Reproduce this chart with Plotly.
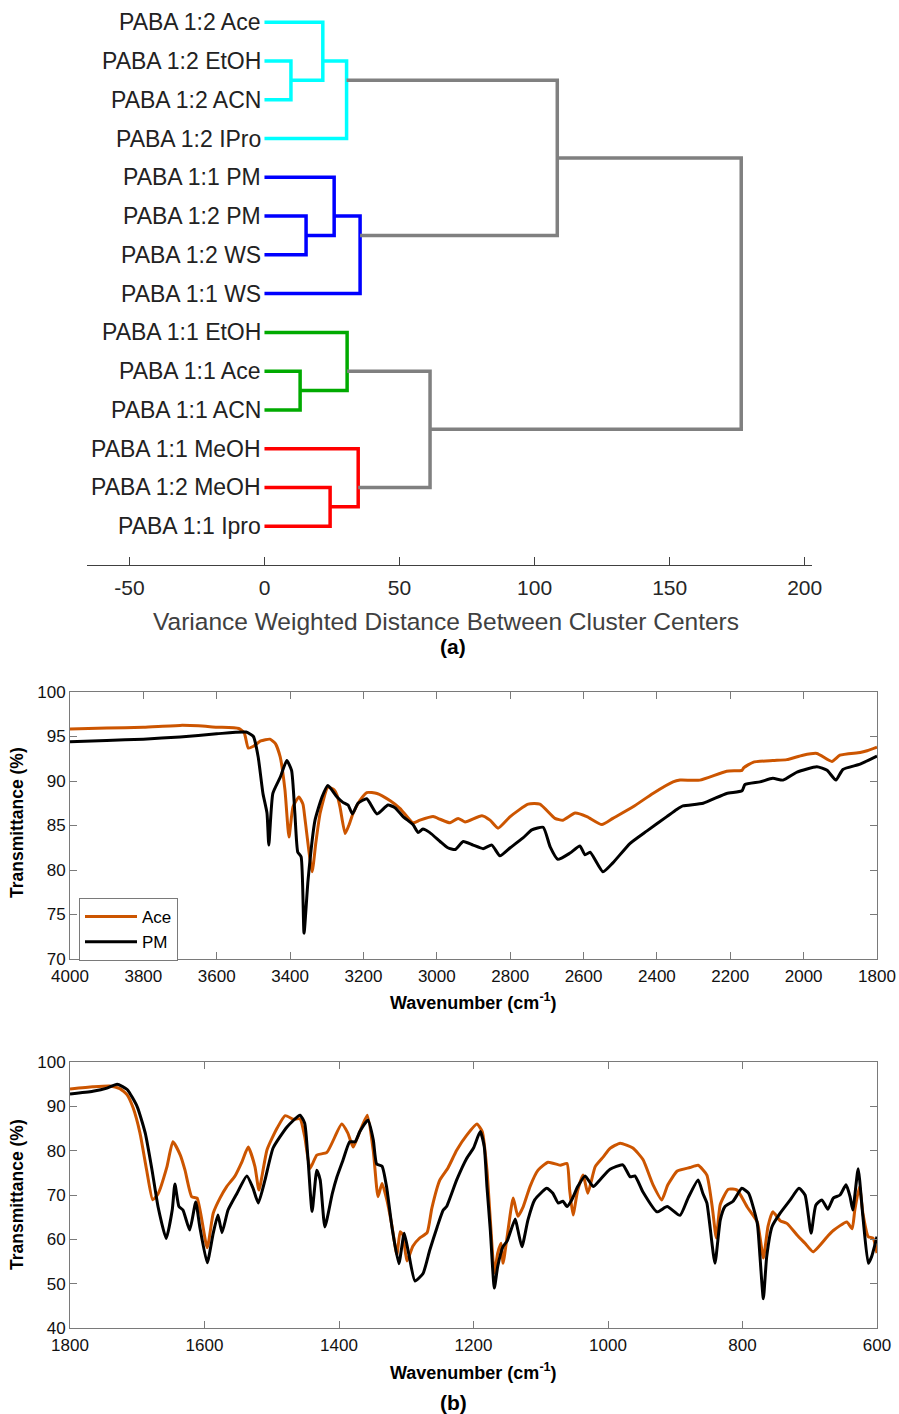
import plotly.graph_objects as go

# ---------------- (a) hierarchical clustering of PABA samples ----------------
leaf_labels = [
    "PABA 1:2 Ace", "PABA 1:2 EtOH", "PABA 1:2 ACN", "PABA 1:2 IPro",
    "PABA 1:1 PM", "PABA 1:2 PM", "PABA 1:2 WS", "PABA 1:1 WS",
    "PABA 1:1 EtOH", "PABA 1:1 Ace", "PABA 1:1 ACN",
    "PABA 1:1 MeOH", "PABA 1:2 MeOH", "PABA 1:1 Ipro",
]

# linkage: (child a, child b, merge distance, cluster colour); new node ids start at 14
link_a = [1, 0, 15, 5, 4, 18, 16, 9, 8, 12, 11, 22, 20]
link_b = [2, 14, 3, 6, 17, 7, 19, 10, 21, 13, 23, 24, 25]
link_h = [9.8, 21.6, 30.4, 15.4, 25.8, 35.4, 108.4, 13.2, 30.6, 24.3, 34.7, 61.3, 176.5]
link_c = ["#00FFFF", "#00FFFF", "#00FFFF", "#0000FF", "#0000FF", "#0000FF", "#808080",
          "#00AA00", "#00AA00", "#FF0000", "#FF0000", "#808080", "#808080"]

dist_ticks = [-50, 0, 50, 100, 150, 200]

# ---------------- (b) FTIR spectra ----------------
hi_wn_ace = [4000, 3900, 3800, 3700, 3650, 3600, 3540, 3525, 3514, 3500, 3480, 3455, 3440, 3427,
             3414, 3403, 3392, 3376, 3365, 3359, 3340, 3330, 3318, 3297, 3280, 3272, 3264, 3250,
             3240, 3228, 3210, 3191, 3163, 3128, 3100, 3065, 3046, 3010, 2991, 2964, 2942, 2923,
             2877, 2855, 2833, 2800, 2751, 2719, 2678, 2656, 2623, 2591, 2550, 2520, 2465, 2411,
             2356, 2337, 2283, 2210, 2168, 2163, 2138, 2084, 2046, 2002, 1964, 1923, 1901, 1846,
             1827, 1800]
hi_t_ace = [95.85, 95.95, 96.05, 96.25, 96.2, 96.05, 95.9, 95.4, 93.7, 93.9, 94.5, 94.7, 94.2, 92.7,
            89.0, 83.7, 87.1, 88.2, 87.4, 85.6, 79.8, 83.0, 86.4, 89.3, 89.0, 88.4, 87.1, 84.1,
            85.0, 86.4, 87.8, 88.7, 88.6, 87.8, 86.9, 85.3, 85.6, 86.0, 85.7, 85.3, 85.8, 85.4,
            86.1, 85.6, 84.7, 86.0, 87.4, 87.4, 85.8, 85.6, 86.4, 86.0, 85.1, 85.8, 87.1, 88.6,
            89.9, 90.1, 90.1, 91.1, 91.2, 91.5, 92.1, 92.3, 92.4, 92.9, 93.1, 92.2, 92.9, 93.2,
            93.4, 93.8]

hi_wn_pm = [4000, 3900, 3800, 3700, 3600, 3520, 3500, 3487, 3474, 3463, 3458, 3447, 3427, 3409,
            3396, 3387, 3379, 3370, 3362, 3351, 3332, 3313, 3297, 3272, 3256, 3242, 3230, 3215,
            3191, 3163, 3133, 3114, 3092, 3065, 3051, 3038, 3019, 2991, 2970, 2950, 2928, 2901,
            2874, 2850, 2828, 2800, 2765, 2741, 2710, 2691, 2670, 2637, 2610, 2596, 2582, 2547,
            2520, 2473, 2427, 2373, 2346, 2329, 2274, 2210, 2168, 2160, 2119, 2084, 2056, 2018,
            1964, 1936, 1912, 1893, 1846, 1800]
hi_t_pm = [94.4, 94.55, 94.7, 94.95, 95.3, 95.5, 95.0, 92.7, 88.6, 86.4, 82.8, 88.6, 90.4, 92.3,
           91.2, 86.4, 82.0, 81.5, 72.9, 78.9, 85.6, 88.2, 89.5, 88.2, 87.6, 87.3, 86.3, 87.5,
           88.0, 86.3, 87.3, 87.0, 86.0, 85.1, 84.2, 84.6, 84.2, 83.2, 82.5, 82.3, 83.2, 82.8,
           82.4, 82.8, 81.6, 82.5, 83.6, 84.5, 84.8, 82.6, 81.2, 81.9, 82.7, 81.7, 82.0, 79.8,
           80.8, 83.0, 84.4, 86.0, 86.8, 87.2, 87.5, 88.6, 88.9, 89.6, 89.9, 90.3, 90.1, 91.0,
           91.6, 91.2, 90.1, 91.3, 91.9, 92.8]

lo_wn_ace = [1800, 1766, 1741, 1726, 1715, 1706, 1696, 1686, 1677, 1669, 1656, 1647, 1636, 1629,
             1619, 1611, 1596, 1587, 1577, 1567, 1555, 1544, 1535, 1525, 1519, 1507, 1492, 1480,
             1468, 1458, 1451, 1443, 1433, 1418, 1396, 1387, 1379, 1373, 1358, 1349, 1342, 1336,
             1329, 1321, 1314, 1309, 1305, 1299, 1290, 1280, 1269, 1262, 1250, 1238, 1225, 1210,
             1195, 1187, 1180, 1175, 1169, 1164, 1159, 1156, 1150, 1141, 1134, 1126, 1116, 1104,
             1089, 1071, 1061, 1057, 1052, 1045, 1037, 1030, 1019, 1007, 997, 982, 963, 948, 933,
             920, 911, 897, 878, 866, 853, 845, 839, 833, 821, 808, 793, 778, 769, 762, 755, 744,
             734, 719, 707, 695, 674, 665, 645, 637, 633, 626, 621, 613, 606, 600]
lo_t_ace = [93.9, 94.4, 94.6, 94.0, 92.6, 89.6, 84.0, 75.6, 68.9, 70.3, 76.3, 82.0, 79.0, 75.6,
            69.6, 69.3, 58.1, 65.9, 69.3, 71.9, 74.2, 77.6, 80.8, 76.4, 71.1, 80.2, 85.1, 87.9,
            87.1, 87.2, 83.2, 76.0, 79.0, 79.6, 86.0, 84.0, 80.8, 82.8, 88.0, 79.9, 69.6, 72.6,
            69.0, 62.8, 56.5, 61.7, 61.0, 55.1, 58.5, 60.3, 61.5, 67.0, 73.4, 76.1, 80.1, 83.5,
            86.0, 84.3, 75.6, 64.4, 52.4, 56.9, 59.1, 54.6, 60.6, 69.3, 65.2, 67.4, 71.9, 75.6,
            77.4, 76.7, 77.1, 71.1, 65.5, 71.1, 74.5, 70.4, 76.4, 78.6, 80.5, 81.7, 80.6, 78.0, 72.3,
            68.9, 72.3, 75.4, 76.2, 76.7, 74.5, 67.3, 60.3, 67.9, 71.3, 71.1, 67.3, 63.9, 55.8, 63.0,
            66.2, 64.2, 63.6, 61.0, 59.1, 57.2, 60.6, 62.0, 63.9, 62.4, 66.6, 71.9, 65.9, 60.6,
            60.3, 56.9]

lo_wn_pm = [1800, 1766, 1745, 1730, 1715, 1700, 1688, 1678, 1669, 1657, 1648, 1644, 1638, 1632,
            1622, 1613, 1607, 1596, 1587, 1580, 1574, 1565, 1552, 1537, 1528, 1520, 1510, 1498,
            1477, 1458, 1451, 1446, 1440, 1433, 1428, 1421, 1410, 1403, 1394, 1384, 1376, 1369,
            1357, 1349, 1344, 1336, 1329, 1321, 1311, 1303, 1296, 1287, 1275, 1265, 1254, 1245,
            1240, 1225, 1210, 1200, 1190, 1184, 1180, 1175, 1169, 1164, 1156, 1150, 1138, 1134,
            1128, 1119, 1109, 1091, 1082, 1074, 1067, 1061, 1054, 1045, 1034, 1022, 1012, 997,
            978, 967, 960, 948, 927, 912, 893, 881, 866, 859, 853, 841, 833, 826, 814, 801, 791,
            778, 774, 769, 764, 756, 744, 729, 716, 707, 698, 691, 682, 673, 665, 655, 646, 640,
            636, 628, 621, 613, 608, 600]
lo_t_pm = [92.8, 93.4, 94.1, 95.0, 93.8, 89.9, 83.9, 75.6, 67.3, 60.2, 66.6, 72.5, 67.4, 66.6,
           62.1, 68.4, 62.8, 54.7, 61.4, 65.5, 61.5, 66.6, 70.3, 74.3, 71.6, 68.2, 73.4, 80.6,
           85.4, 88.0, 86.2, 77.9, 66.3, 75.6, 73.4, 62.8, 70.3, 74.1, 77.9, 82.0, 82.0, 84.3,
           86.9, 82.4, 77.0, 76.5, 71.6, 62.5, 54.5, 61.4, 56.5, 50.6, 52.3, 57.6, 62.8, 66.6,
           67.4, 73.4, 78.3, 80.6, 84.3, 80.9, 71.9, 62.1, 49.0, 53.9, 58.4, 59.6, 64.6, 62.1,
           58.3, 64.4, 68.9, 71.5, 70.4, 68.2, 68.6, 67.4, 68.9, 71.9, 74.3, 71.9, 73.4, 75.8,
           76.8, 74.1, 74.3, 70.7, 66.2, 67.4, 65.4, 69.3, 73.4, 70.4, 68.2, 54.6, 64.4, 67.4,
           68.6, 71.5, 70.4, 63.6, 56.1, 46.6, 56.1, 62.9, 65.9, 68.9, 71.5, 70.0, 61.4, 67.7,
           68.9, 66.8, 69.3, 70.0, 72.3, 69.6, 66.6, 75.9, 65.2, 54.6, 56.1, 60.6]

ACE_COLOR = "#CC5500"
PM_COLOR = "#000000"
FONT = "Arial, Liberation Sans, sans-serif"

W, H = 899, 1414


def px_x(p):
    return p / W


def px_y(p):
    return 1 - p / H


fig = go.Figure()

# ---- dendrogram links ----
n_leaf = len(leaf_labels)
pos = {i: float(i + 1) for i in range(n_leaf)}
size = {i: 1 for i in range(n_leaf)}
height = {i: 0.0 for i in range(n_leaf)}
for k, (a, b, h, c) in enumerate(zip(link_a, link_b, link_h, link_c)):
    node = n_leaf + k
    fig.add_trace(go.Scatter(
        x=[height[a], h, h, height[b]],
        y=[pos[a], pos[a], pos[b], pos[b]],
        mode="lines", line=dict(color=c, width=3.5),
        xaxis="x", yaxis="y", showlegend=False, hoverinfo="skip",
    ))
    size[node] = size[a] + size[b]
    pos[node] = (pos[a] * size[a] + pos[b] * size[b]) / size[node]
    height[node] = h

# ---- spectra ----
spec_line = dict(width=3, shape="spline", smoothing=0.5)
fig.add_trace(go.Scatter(x=hi_wn_ace, y=hi_t_ace, mode="lines", name="Ace",
                         line=dict(color=ACE_COLOR, **spec_line), xaxis="x2", yaxis="y2",
                         legendgroup="ace"))
fig.add_trace(go.Scatter(x=hi_wn_pm, y=hi_t_pm, mode="lines", name="PM",
                         line=dict(color=PM_COLOR, **spec_line), xaxis="x2", yaxis="y2",
                         legendgroup="pm"))
fig.add_trace(go.Scatter(x=lo_wn_ace, y=lo_t_ace, mode="lines", name="Ace",
                         line=dict(color=ACE_COLOR, **spec_line), xaxis="x3", yaxis="y3",
                         showlegend=False, legendgroup="ace"))
fig.add_trace(go.Scatter(x=lo_wn_pm, y=lo_t_pm, mode="lines", name="PM",
                         line=dict(color=PM_COLOR, **spec_line), xaxis="x3", yaxis="y3",
                         showlegend=False, legendgroup="pm"))

frame = "#7a7a7a"
spec_axis = dict(showline=True, mirror="ticks", linecolor=frame, linewidth=1,
                 ticks="inside", ticklen=7, tickcolor=frame, showgrid=False,
                 zeroline=False, tickfont=dict(family=FONT, size=17, color="#111111"))

annotations = []
for i, lab in enumerate(leaf_labels):
    annotations.append(dict(x=0, y=i + 1, xref="x", yref="y", text=lab, showarrow=False,
                            xanchor="right", yanchor="middle", xshift=-1,
                            font=dict(family=FONT, size=23, color="#222222")))

annotations += [
    dict(x=px_x(446), y=px_y(621), xref="paper", yref="paper", showarrow=False,
         text="Variance Weighted Distance Between Cluster Centers",
         font=dict(family=FONT, size=24.5, color="#404040"), xanchor="center", yanchor="middle"),
    dict(x=px_x(453), y=px_y(646), xref="paper", yref="paper", showarrow=False,
         text="<b>(a)</b>", font=dict(family=FONT, size=21, color="#000000"),
         xanchor="center", yanchor="middle"),
    dict(x=px_x(17), y=px_y(823), xref="paper", yref="paper", showarrow=False,
         text="<b>Transmittance (%)</b>", textangle=-90,
         font=dict(family=FONT, size=17.5, color="#000000"), xanchor="center", yanchor="middle"),
    dict(x=px_x(473), y=px_y(1001), xref="paper", yref="paper", showarrow=False,
         text="<b>Wavenumber (cm<sup>-1</sup>)</b>",
         font=dict(family=FONT, size=18, color="#000000"), xanchor="center", yanchor="middle"),
    dict(x=px_x(17), y=px_y(1195), xref="paper", yref="paper", showarrow=False,
         text="<b>Transmittance (%)</b>", textangle=-90,
         font=dict(family=FONT, size=17.5, color="#000000"), xanchor="center", yanchor="middle"),
    dict(x=px_x(473), y=px_y(1371), xref="paper", yref="paper", showarrow=False,
         text="<b>Wavenumber (cm<sup>-1</sup>)</b>",
         font=dict(family=FONT, size=18, color="#000000"), xanchor="center", yanchor="middle"),
    dict(x=px_x(453), y=px_y(1402), xref="paper", yref="paper", showarrow=False,
         text="<b>(b)</b>", font=dict(family=FONT, size=21, color="#000000"),
         xanchor="center", yanchor="middle"),
]

fig.update_layout(
    width=W, height=H,
    margin=dict(l=0, r=0, t=0, b=0, pad=0, autoexpand=False),
    paper_bgcolor="white", plot_bgcolor="white",
    font=dict(family=FONT),
    xaxis=dict(domain=[px_x(87), px_x(812)], range=[-65.7, 202.7], anchor="y",
               showline=True, linecolor="#404040", linewidth=1, ticks="inside", ticklen=8,
               tickcolor="#404040", tickvals=dist_ticks, ticktext=[str(v) for v in dist_ticks],
               tickfont=dict(family=FONT, size=21, color="#262626"), ticklabelstandoff=4,
               showgrid=False, zeroline=False, automargin=False),
    yaxis=dict(domain=[px_y(565), 1.0], range=[15, 0.427], anchor="x", visible=False,
               automargin=False),
    xaxis2=dict(domain=[px_x(70), px_x(877)], range=[4000, 1800], anchor="y2",
                tickvals=list(range(4000, 1799, -200)), automargin=False,
                ticklabelstandoff=2, **spec_axis),
    yaxis2=dict(domain=[px_y(959), px_y(692)], range=[70, 100], anchor="x2",
                tickvals=list(range(70, 101, 5)), automargin=False, **spec_axis),
    xaxis3=dict(domain=[px_x(70), px_x(877)], range=[1800, 600], anchor="y3",
                tickvals=list(range(1800, 599, -200)), automargin=False,
                ticklabelstandoff=2, **spec_axis),
    yaxis3=dict(domain=[px_y(1328), px_y(1062)], range=[40, 100], anchor="x3",
                tickvals=list(range(40, 101, 10)), automargin=False, **spec_axis),
    legend=dict(x=px_x(79), y=px_y(898), xanchor="left", yanchor="top",
                bgcolor="white", bordercolor=frame, borderwidth=1, itemwidth=52,
                font=dict(family=FONT, size=17, color="#000000"), tracegroupgap=0),
    annotations=annotations,
)

fig.write_html("out.html")
